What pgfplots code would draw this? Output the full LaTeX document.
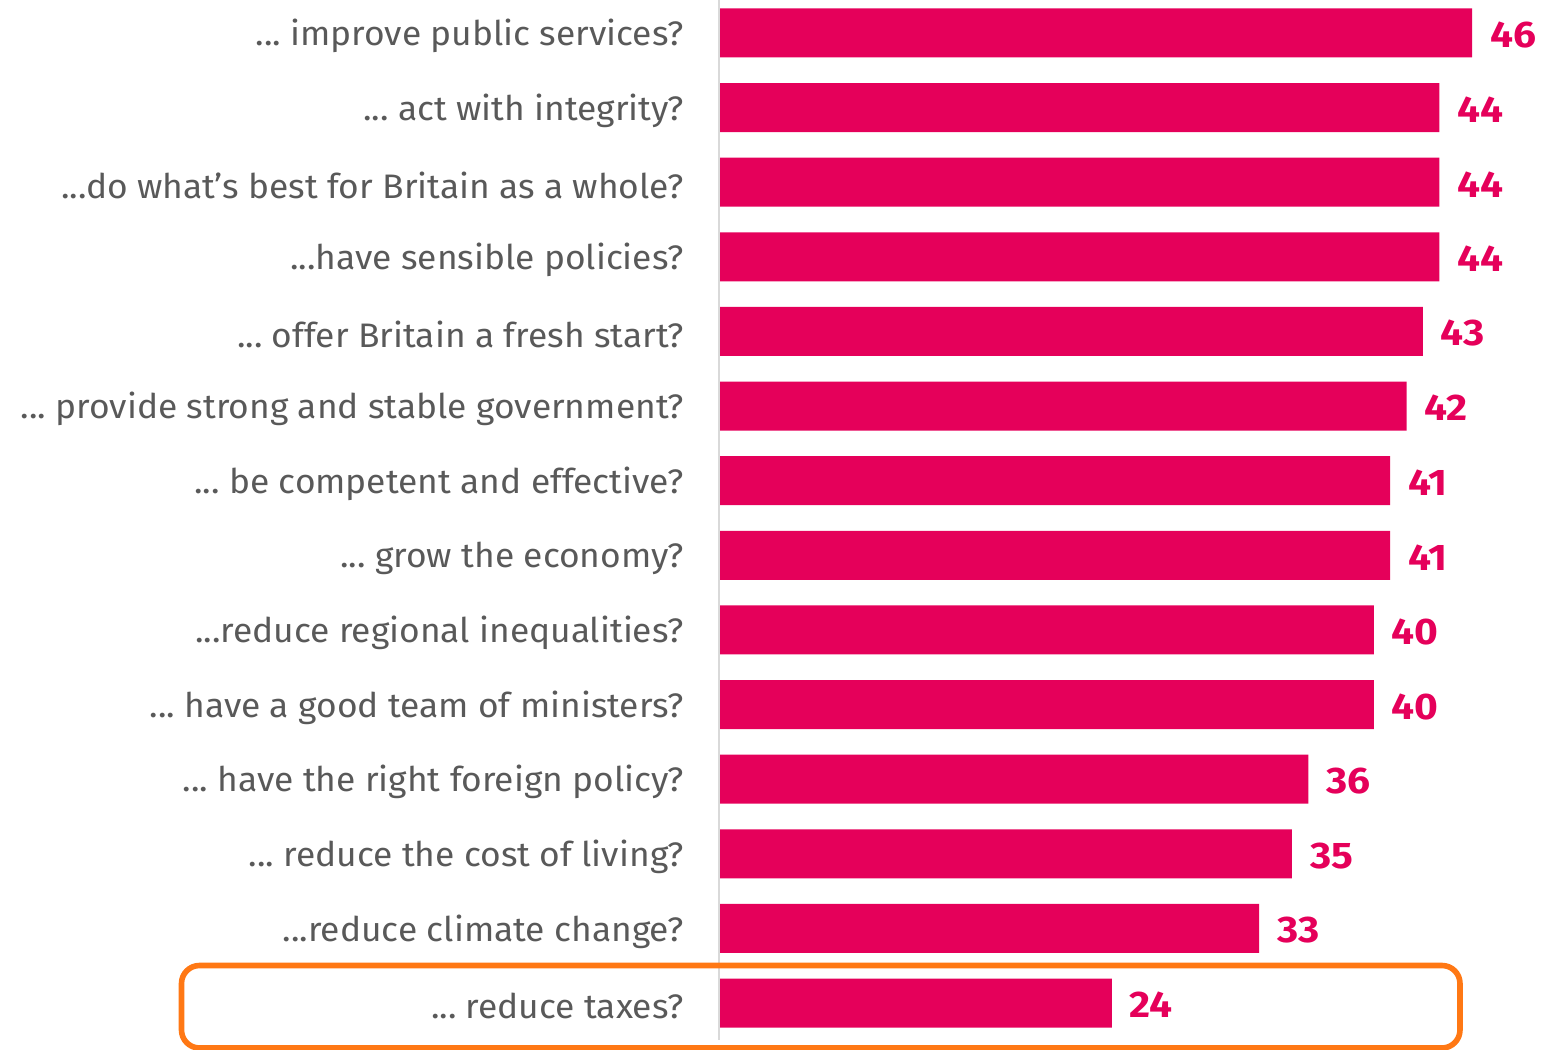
\documentclass[border=0pt]{standalone}
\usepackage{fontspec}
\setmainfont{Fira Sans}[FakeStretch=1.04]
\newfontfamily\numfont{Fira Sans}[FakeStretch=1.1]
\usepackage{pgfplots}
\pgfplotsset{compat=1.18}
\definecolor{barcol}{HTML}{E5005A}
\definecolor{labgray}{HTML}{595959}
\definecolor{boxor}{HTML}{FF7814}
\definecolor{axgray}{HTML}{D9D9D9}
\newcommand\dd{...}
\begin{document}
\begin{tikzpicture}
\begin{axis}[
  at={(0,0)}, anchor=south west,
  scale only axis, width=423pt, height=525pt,
  xbar, bar width=24.5pt,
  xmin=0, xmax=51.68,
  ymin=-0.442, ymax=13.63, y dir=reverse,
  hide x axis,
  y axis line style={draw=none},
  /pgf/number format/assume math mode=true,
  ytick={0,1,2,3,4,5,6,7,8,9,10,11,12,13},
  yticklabels={{\dd\ improve public services?},{\dd\ act with integrity?},{\dd do what’s best for Britain as a whole?},{\dd have sensible policies?},{\dd\ offer Britain a fresh start?},{\dd\ provide strong and stable government?},{\dd\ be competent and effective?},{\dd\ grow the economy?},{\dd reduce regional inequalities?},{\dd\ have a good team of ministers?},{\dd\ have the right foreign policy?},{\dd\ reduce the cost of living?},{\dd reduce climate change?},{\dd\ reduce taxes?}},
  major tick length=0pt,
  ytick style={draw=none},
  yticklabel style={font=\fontsize{17}{19}\selectfont, text=labgray, anchor=east, xshift=-14pt, yshift=-1.5pt},
  nodes near coords,
  point meta=x,
  nodes near coords style={font=\numfont\fontsize{18.5}{20}\selectfont\bfseries, text=barcol, anchor=west, xshift=5.5pt, yshift=-1pt},
  clip=false,
]
\addplot[fill=barcol, draw=none] coordinates {
(46,0) (44,1) (44,2) (44,3) (43,4) (42,5) (41,6) (41,7) (40,8) (40,9) (36,10) (35,11) (33,12) (24,13)};
\end{axis}
\draw[axgray, line width=1pt] (0,525pt) -- (0,5pt);
\draw[boxor, line width=2.8pt, rounded corners=9pt] (-268.75pt,1pt) rectangle (370.5pt,42.25pt);
\pgfresetboundingbox
\path (-359.5pt,0) rectangle (423pt,525pt);
\end{tikzpicture}
\end{document}
